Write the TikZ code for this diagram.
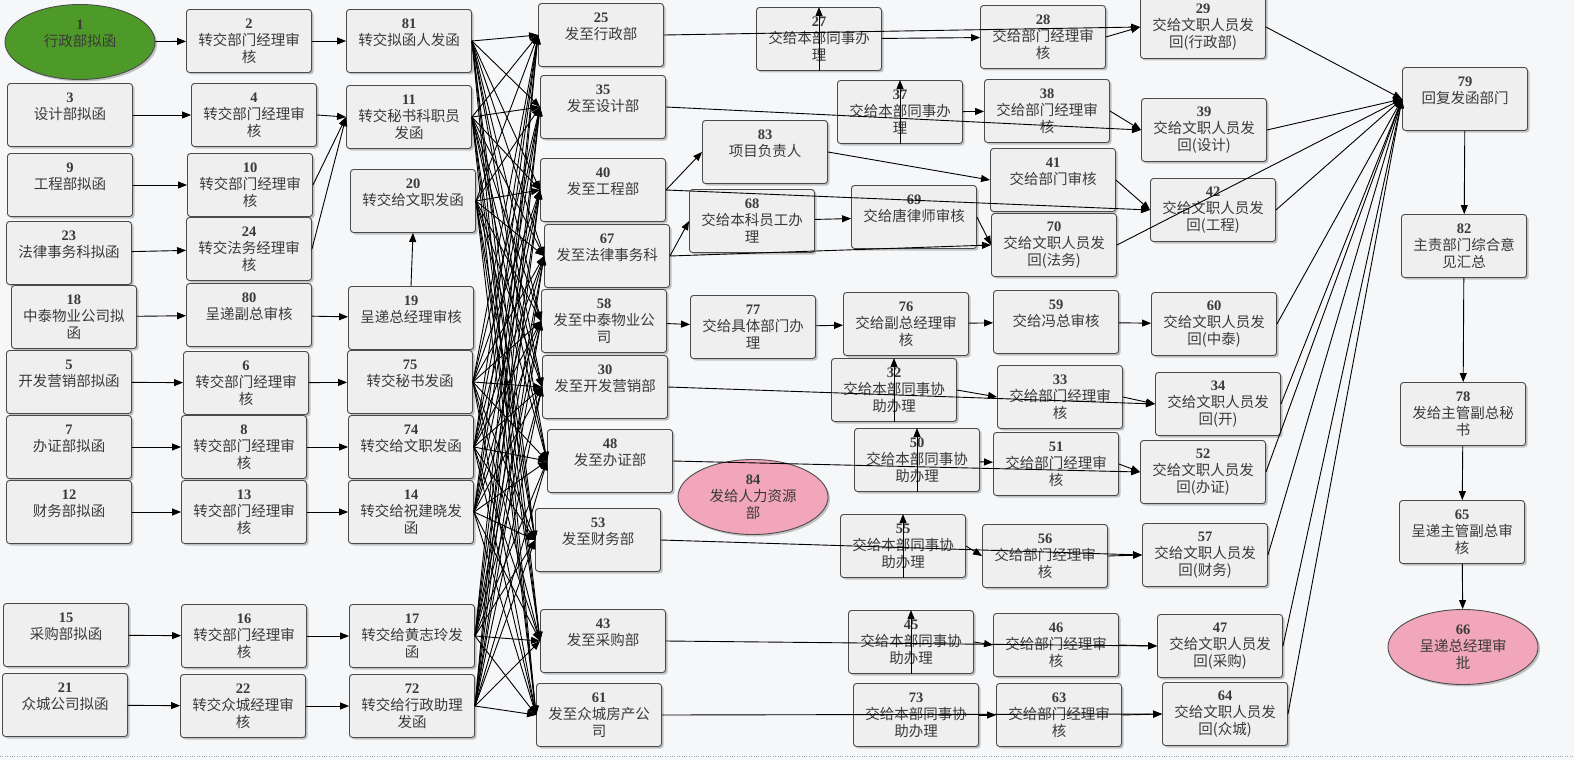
\documentclass[tikz,border=0pt]{standalone}
\usepackage{fontspec}
\setmainfont{Noto Sans CJK SC}
\newfontfamily\numfont{Liberation Serif}
\usepackage{tikz}
\usetikzlibrary{shapes.geometric, arrows.meta, shadows}
\definecolor{bgcol}{HTML}{F6F7F9}
\definecolor{boxcol}{HTML}{EFEFEF}
\definecolor{edgecol}{HTML}{4A4A4A}
\definecolor{textcol}{HTML}{3A3A3A}
\definecolor{startcol}{HTML}{4E9A28}
\definecolor{endcol}{HTML}{F2A6BC}
\newcommand{\nr}[1]{{\numfont\bfseries #1}}

\begin{document}
\begin{tikzpicture}[x=1pt,y=-1pt,
  >={Triangle[length=9pt,width=7pt]},
  box/.style={draw=edgecol, fill=boxcol, rounded corners=3pt, line width=0.9pt,
    minimum width=125pt, minimum height=63pt, inner sep=0pt, align=center,
    text=textcol, font=\fontsize{14.5}{17}\selectfont,
    drop shadow={shadow xshift=2pt, shadow yshift=-2pt, fill=black!45}},
  oval/.style={box, ellipse, rounded corners=0pt, minimum width=150pt, minimum height=75pt},
  line/.style={->, line width=0.9pt, black}]
\useasboundingbox[fill=bgcol] (0,0) rectangle (1574,760);
\draw[gray!70, dotted] (0,756) -- (1574,756);

% sending departments
\node[oval, fill=startcol, draw=black!70] (n1) at (80,42) {\nr{1}\\行政部拟函\\~};
\node[box] (n3) at (70,115) {\nr{3}\\设计部拟函\\~};
\node[box] (n9) at (70,185) {\nr{9}\\工程部拟函\\~};
\node[box] (n23) at (69,253) {\nr{23}\\法律事务科拟函\\~};
\node[box] (n18) at (74,317) {\nr{18}\\中泰物业公司拟\\函};
\node[box] (n5) at (69,382) {\nr{5}\\开发营销部拟函\\~};
\node[box] (n7) at (69,447) {\nr{7}\\办证部拟函\\~};
\node[box] (n12) at (69,512) {\nr{12}\\财务部拟函\\~};
\node[box] (n15) at (66,635) {\nr{15}\\采购部拟函\\~};
\node[box] (n21) at (65,705) {\nr{21}\\众城公司拟函\\~};

% manager check
\node[box] (n2) at (249,41) {\nr{2}\\转交部门经理审\\核};
\node[box] (n4) at (254,115) {\nr{4}\\转交部门经理审\\核};
\node[box] (n10) at (250,185) {\nr{10}\\转交部门经理审\\核};
\node[box] (n24) at (249,249) {\nr{24}\\转交法务经理审\\核};
\node[box] (n80) at (249,315) {\nr{80}\\呈递副总审核\\~};
\node[box] (n6) at (246,383) {\nr{6}\\转交部门经理审\\核};
\node[box] (n8) at (244,447) {\nr{8}\\转交部门经理审\\核};
\node[box] (n13) at (244,512) {\nr{13}\\转交部门经理审\\核};
\node[box] (n16) at (244,636) {\nr{16}\\转交部门经理审\\核};
\node[box] (n22) at (243,706) {\nr{22}\\转交众城经理审\\核};

% sending out
\node[box] (n81) at (409,41) {\nr{81}\\转交拟函人发函\\~};
\node[box] (n11) at (409,117) {\nr{11}\\转交秘书科职员\\发函};
\node[box] (n20) at (413,201) {\nr{20}\\转交给文职发函\\~};
\node[box] (n19) at (411,318) {\nr{19}\\呈递总经理审核\\~};
\node[box] (n75) at (410,382) {\nr{75}\\转交秘书发函\\~};
\node[box] (n74) at (411,447) {\nr{74}\\转交给文职发函\\~};
\node[box] (n14) at (411,512) {\nr{14}\\转交给祝建晓发\\函};
\node[box] (n17) at (412,636) {\nr{17}\\转交给黄志玲发\\函};
\node[box] (n72) at (412,706) {\nr{72}\\转交给行政助理\\发函};

% receiving departments
\node[box] (n25) at (601,35) {\nr{25}\\发至行政部\\~};
\node[box] (n35) at (603,107) {\nr{35}\\发至设计部\\~};
\node[box] (n40) at (603,190) {\nr{40}\\发至工程部\\~};
\node[box] (n67) at (607,256) {\nr{67}\\发至法律事务科\\~};
\node[box] (n58) at (604,321) {\nr{58}\\发至中泰物业公\\司};
\node[box] (n30) at (605,387) {\nr{30}\\发至开发营销部\\~};
\node[box] (n48) at (610,461) {\nr{48}\\发至办证部\\~};
\node[box] (n53) at (598,540) {\nr{53}\\发至财务部\\~};
\node[box] (n43) at (603,641) {\nr{43}\\发至采购部\\~};
\node[box] (n61) at (599,715) {\nr{61}\\发至众城房产公\\司};

% handling
\node[box] (n83) at (765,152) {\nr{83}\\项目负责人\\~};
\node[box] (n68) at (752,221) {\nr{68}\\交给本科员工办\\理};
\node[box] (n77) at (753,327) {\nr{77}\\交给具体部门办\\理};
\node[oval, fill=endcol, draw=black!70] (n84) at (753,497) {\nr{84}\\发给人力资源\\部};
\node[box] (n27) at (819,39) {\nr{27}\\交给本部同事办\\理};
\node[box] (n37) at (900,112) {\nr{37}\\交给本部同事办\\理};
\node[box] (n69) at (914,217) {\nr{69}\\交给唐律师审核\\~};
\node[box] (n76) at (906,324) {\nr{76}\\交给副总经理审\\核};
\node[box] (n32) at (894,390) {\nr{32}\\交给本部同事协\\助办理};
\node[box] (n50) at (917,460) {\nr{50}\\交给本部同事协\\助办理};
\node[box] (n55) at (903,546) {\nr{55}\\交给本部同事协\\助办理};
\node[box] (n45) at (911,642) {\nr{45}\\交给本部同事协\\助办理};
\node[box] (n73) at (916,715) {\nr{73}\\交给本部同事协\\助办理};

% department review
\node[box] (n28) at (1043,37) {\nr{28}\\交给部门经理审\\核};
\node[box] (n38) at (1047,111) {\nr{38}\\交给部门经理审\\核};
\node[box] (n41) at (1053,180) {\nr{41}\\交给部门审核\\~};
\node[box] (n70) at (1054,245) {\nr{70}\\交给文职人员发\\回(法务)};
\node[box] (n59) at (1056,322) {\nr{59}\\交给冯总审核\\~};
\node[box] (n33) at (1060,397) {\nr{33}\\交给部门经理审\\核};
\node[box] (n51) at (1056,464) {\nr{51}\\交给部门经理审\\核};
\node[box] (n56) at (1045,556) {\nr{56}\\交给部门经理审\\核};
\node[box] (n46) at (1056,645) {\nr{46}\\交给部门经理审\\核};
\node[box] (n63) at (1059,715) {\nr{63}\\交给部门经理审\\核};

% return
\node[box] (n29) at (1203,27) {\nr{29}\\交给文职人员发\\回(行政部)};
\node[box] (n39) at (1204,130) {\nr{39}\\交给文职人员发\\回(设计)};
\node[box] (n42) at (1213,210) {\nr{42}\\交给文职人员发\\回(工程)};
\node[box] (n60) at (1214,324) {\nr{60}\\交给文职人员发\\回(中泰)};
\node[box] (n34) at (1218,404) {\nr{34}\\交给文职人员发\\回(开)};
\node[box] (n52) at (1203,472) {\nr{52}\\交给文职人员发\\回(办证)};
\node[box] (n57) at (1205,555) {\nr{57}\\交给文职人员发\\回(财务)};
\node[box] (n47) at (1220,646) {\nr{47}\\交给文职人员发\\回(采购)};
\node[box] (n64) at (1225,714) {\nr{64}\\交给文职人员发\\回(众城)};

% final
\node[box] (n79) at (1465,99) {\nr{79}\\回复发函部门\\~};
\node[box] (n82) at (1464,246) {\nr{82}\\主责部门综合意\\见汇总};
\node[box] (n78) at (1463,414) {\nr{78}\\发给主管副总秘\\书};
\node[box] (n65) at (1462,532) {\nr{65}\\呈递主管副总审\\核};
\node[oval, fill=endcol, draw=black!70] (n66) at (1463,647) {\nr{66}\\呈递总经理审\\批};

% left chains
\draw[line] (n1) -- (n2);
\draw[line] (n2) -- (n81);
\draw[line] (n3) -- (n4);
\draw[line] (n4.east) -- (n11.west);
\draw[line] (n9) -- (n10);
\draw[line] (n10.east) -- (n11.west);
\draw[line] (n23) -- (n24);
\draw[line] (n24.east) -- (n11.west);
\draw[line] (n18) -- (n80);
\draw[line] (n80) -- (n19);
\draw[line] (n19.north) -- (n20.south);
\draw[line] (n5) -- (n6);
\draw[line] (n6) -- (n75);
\draw[line] (n7) -- (n8);
\draw[line] (n8) -- (n74);
\draw[line] (n12) -- (n13);
\draw[line] (n13) -- (n14);
\draw[line] (n15) -- (n16);
\draw[line] (n16) -- (n17);
\draw[line] (n21) -- (n22);
\draw[line] (n22) -- (n72);

% every sender to every department
\foreach \s in {81,11,20,75,74,14,17,72}
  \foreach \t in {25,35,40,67,58,30,48,53,43,61}
    \draw[line] (n\s.east) -- (n\t.west);

% department branches
\draw[line] (n25.east) -- (n29.west);
\draw[line] (n27) -- (n28);
\draw[line] (n28.east) -- (n29.west);
\draw[line] (n35.east) -- (n39.west);
\draw[line] (n37) -- (n38);
\draw[line] (n38.east) -- (n39.west);
\draw[line] (n40.east) -- (n83.west);
\draw[line] (n83.east) -- (n41.west);
\draw[line] (n40.east) -- (n42.west);
\draw[line] (n41.east) -- (n42.west);
\draw[line] (n67.east) -- (n68.west);
\draw[line] (n68) -- (n69);
\draw[line] (n69.east) -- (n70.west);
\draw[line] (n67.east) -- (n70.west);
\draw[line] (n58) -- (n77);
\draw[line] (n77) -- (n76);
\draw[line] (n76) -- (n59);
\draw[line] (n59) -- (n60);
\draw[line] (n30.east) -- (n34.west);
\draw[line] (n32.east) -- (n33.west);
\draw[line] (n33.east) -- (n34.west);
\draw[line] (n48.east) -- (n52.west);
\draw[line] (n50) -- (n51);
\draw[line] (n51.east) -- (n52.west);
\draw[line] (n53.east) -- (n57.west);
\draw[line] (n55.east) -- (n56.west);
\draw[line] (n56.east) -- (n57.west);
\draw[line] (n43.east) -- (n47.west);
\draw[line] (n45.east) -- (n46.west);
\draw[line] (n46.east) -- (n47.west);
\draw[line] (n61.east) -- (n64.west);
\draw[line] (n73) -- (n63);
\draw[line] (n63.east) -- (n64.west);
\foreach \n in {27,37,32,50,55,45}
  \draw[line] (n\n.south) -- (n\n.north);

% replies
\foreach \r in {29,39,42,70,60,34,52,57,47,64}
  \draw[line] (n\r.east) -- (n79.west);
\draw[line] (n79) -- (n82);
\draw[line] (n82) -- (n78);
\draw[line] (n78) -- (n65);
\draw[line] (n65) -- (n66);
\end{tikzpicture}
\end{document}
